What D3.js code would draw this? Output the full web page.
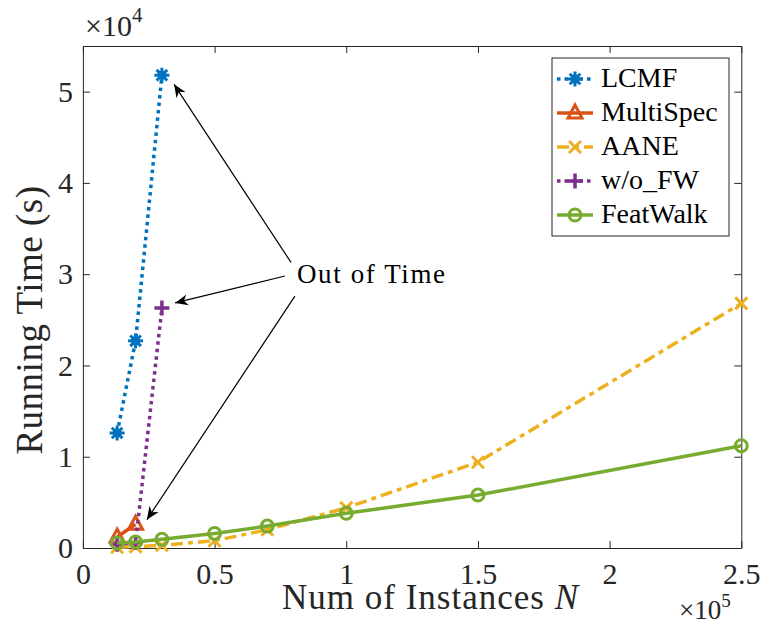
<!DOCTYPE html>
<html>
<head>
<meta charset="utf-8">
<script src="https://cdn.jsdelivr.net/npm/d3@7"></script>
<style>
body { margin: 0; background: #fff; }
text { font-family: "Liberation Serif", "Times New Roman", serif; fill: #262626; }
</style>
</head>
<body>
<div id="chart"></div>
<script>
// data
var instances = [13000, 20000, 30000, 50000, 70000, 100000, 150000, 250000];
var lcmf      = [12600, 22700, 51800];
var multiSpec = [1200, 2600];
var aane      = [80, 150, 300, 800, 2000, 4400, 9400, 26800];
var woFW      = [400, 600, 26300];
var featWalk  = [550, 650, 950, 1600, 2400, 3800, 5800, 11200];

var xTicks = [0, 50000, 100000, 150000, 200000, 250000];
var yTicks = [0, 10000, 20000, 30000, 40000, 50000];

var names  = ["LCMF", "MultiSpec", "AANE", "w/o_FW", "FeatWalk"];
var colors = ["#0072BD", "#D95319", "#EDB120", "#7E2F8E", "#77AC30"];
var dashes = ["3.5,4", null, "12,5,5,5", "3.5,4", null];
var shapes = ["star", "tri", "x", "plus", "circle"];
var values = [lcmf, multiSpec, aane, woFW, featWalk];

// "Out of Time" annotation, in data units
var noteText = "Out of Time";
var notePos = [81300, 29000];
var arrows = [
  { from: [79000, 31300], to: [34600, 50800] },
  { from: [76700, 29800], to: [35000, 26850] },
  { from: [80500, 27600], to: [24300, 3100] }
];

var width = 764, height = 624;
var margin = { top: 46, left: 82.9, right: 764 - 741.3, bottom: 624 - 548 };
var w = width - margin.left - margin.right;
var h = height - margin.top - margin.bottom;

var svg = d3.select("#chart").append("svg")
  .attr("width", width)
  .attr("height", height);

var g = svg.append("g")
  .attr("transform", "translate(" + margin.left + "," + margin.top + ")");

var x = d3.scaleLinear().domain([0, 250000]).range([0, w]);
var y = d3.scaleLinear().domain([0, 55000]).range([h, 0]);

var axisColor = "#262626";
var tick = 7;

function styleAxis(sel) {
  sel.selectAll("path, line").attr("stroke", axisColor).attr("stroke-width", 1);
  sel.selectAll("text").attr("font-family", null).style("fill", axisColor);
}

g.append("g")
  .attr("transform", "translate(0," + h + ")")
  .call(d3.axisBottom(x).tickValues(xTicks).tickSizeInner(-tick).tickSizeOuter(0)
    .tickPadding(15).tickFormat(function(d) { return String(d / 1e5); }))
  .call(styleAxis)
  .selectAll("text").style("font-size", "30px");

g.append("g")
  .call(d3.axisLeft(y).tickValues(yTicks).tickSizeInner(-tick).tickSizeOuter(0)
    .tickPadding(10).tickFormat(function(d) { return String(d / 1e4); }))
  .call(styleAxis)
  .selectAll("text").style("font-size", "30px");

g.append("g")
  .call(d3.axisTop(x).tickValues(xTicks).tickSizeInner(-tick).tickSizeOuter(0).tickFormat(""))
  .call(styleAxis);

g.append("g")
  .attr("transform", "translate(" + w + ",0)")
  .call(d3.axisRight(y).tickValues(yTicks).tickSizeInner(-tick).tickSizeOuter(0).tickFormat(""))
  .call(styleAxis);

// markers
function drawMarker(sel, shape, color) {
  sel.attr("fill", "none").attr("stroke", color).attr("stroke-width", 3);
  if (shape == "star") {
    var r = 7.5;
    [0, 45, 90, 135].forEach(function(a) {
      var dx = r * Math.cos(a * Math.PI / 180), dy = r * Math.sin(a * Math.PI / 180);
      sel.append("line").attr("x1", -dx).attr("y1", -dy).attr("x2", dx).attr("y2", dy);
    });
    sel.append("circle").attr("r", 4.5).attr("fill", color).attr("stroke", "none");
  } else if (shape == "tri") {
    sel.append("path").attr("d", "M0,-8L7,5L-7,5Z").attr("stroke-linejoin", "miter");
  } else if (shape == "x") {
    sel.append("path").attr("d", "M-6,-6L6,6M-6,6L6,-6");
  } else if (shape == "plus") {
    sel.append("path").attr("d", "M-7.5,0L7.5,0M0,-7.5L0,7.5").attr("stroke-width", 3.5);
  } else if (shape == "circle") {
    sel.append("circle").attr("r", 6);
  }
}

var line = d3.line()
  .x(function(d) { return x(d[0]); })
  .y(function(d) { return y(d[1]); });

names.forEach(function(name, i) {
  var pts = values[i].map(function(v, j) { return [instances[j], v]; });
  var s = g.append("g");
  s.append("path")
    .datum(pts)
    .attr("d", line)
    .attr("fill", "none")
    .attr("stroke", colors[i])
    .attr("stroke-width", 3.5)
    .attr("stroke-dasharray", dashes[i])
    .attr("stroke-linecap", "butt");
  s.selectAll("g.m").data(pts).enter().append("g")
    .attr("class", "m")
    .attr("transform", function(d) { return "translate(" + x(d[0]) + "," + y(d[1]) + ")"; })
    .each(function() { drawMarker(d3.select(this), shapes[i], colors[i]); });
});

// arrows
svg.append("defs").append("marker")
  .attr("id", "head")
  .attr("markerUnits", "userSpaceOnUse")
  .attr("viewBox", "-13 -6 14 12")
  .attr("refX", 0).attr("refY", 0)
  .attr("markerWidth", 14).attr("markerHeight", 12)
  .attr("orient", "auto")
  .append("path")
  .attr("d", "M0,0L-13,-5.5L-9,0L-13,5.5Z")
  .attr("fill", "#000");

g.selectAll("line.arrow").data(arrows).enter().append("line")
  .attr("class", "arrow")
  .attr("x1", function(d) { return x(d.from[0]); })
  .attr("y1", function(d) { return y(d.from[1]); })
  .attr("x2", function(d) { return x(d.to[0]); })
  .attr("y2", function(d) { return y(d.to[1]); })
  .attr("stroke", "#000")
  .attr("stroke-width", 1.2)
  .attr("marker-end", "url(#head)");

g.append("text")
  .attr("x", x(notePos[0]))
  .attr("y", y(notePos[1]))
  .style("font-size", "27px")
  .attr("textLength", 148)
  .attr("lengthAdjust", "spacing")
  .style("fill", "#000")
  .text(noteText);

// legend
var lx = 552, ly = 58, lw = 177, lh = 178;
var legend = svg.append("g");
legend.append("rect")
  .attr("x", lx).attr("y", ly).attr("width", lw).attr("height", lh)
  .attr("fill", "#fff").attr("stroke", axisColor).attr("stroke-width", 1);

names.forEach(function(name, i) {
  var cy = 79 + i * 34;
  var item = legend.append("g");
  item.append("line")
    .attr("x1", 557).attr("x2", 593).attr("y1", cy).attr("y2", cy)
    .attr("stroke", colors[i]).attr("stroke-width", 3.5)
    .attr("stroke-dasharray", dashes[i]);
  var m = item.append("g").attr("transform", "translate(575," + cy + ")");
  drawMarker(m, shapes[i], colors[i]);
  item.append("text")
    .attr("x", 601).attr("y", cy + 8)
    .style("font-size", "28px")
    .style("fill", "#000")
    .text(name);
});

// axis labels
svg.append("text")
  .attr("transform", "translate(42,320) rotate(-90)")
  .attr("text-anchor", "middle")
  .style("font-size", "37px")
  .style("letter-spacing", "0.5px")
  .text("Running Time (s)");

var xl = svg.append("text")
  .attr("x", 282).attr("y", 609)
  .style("font-size", "35px")
  .style("letter-spacing", "1px");
xl.append("tspan").text("Num of Instances ");
xl.append("tspan").attr("font-style", "italic").text("N");

// exponent labels
var e1 = svg.append("text").attr("x", 85).attr("y", 36).style("font-size", "30px");
e1.append("tspan").text("×10");
e1.append("tspan").attr("dy", -14).style("font-size", "21px").text("4");

var e2 = svg.append("text").attr("x", 679).attr("y", 619).style("font-size", "27px");
e2.append("tspan").text("×10");
e2.append("tspan").attr("dy", -12).style("font-size", "19px").text("5");
</script>
</body>
</html>
